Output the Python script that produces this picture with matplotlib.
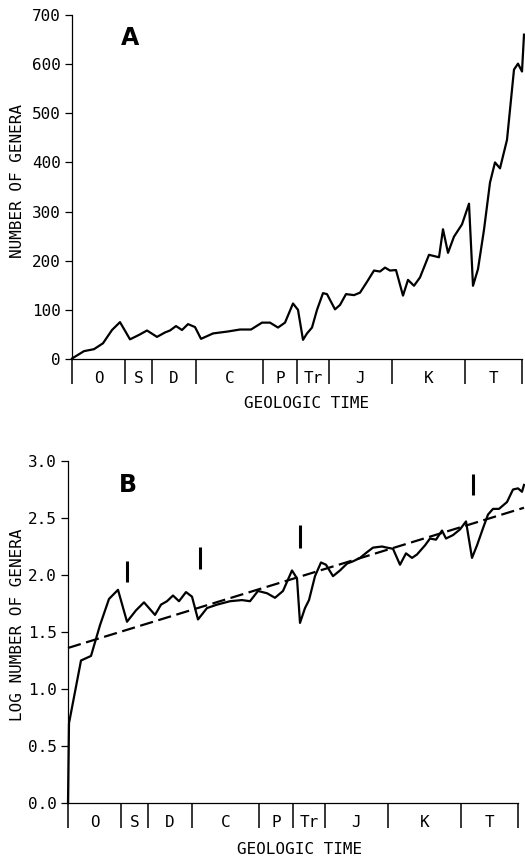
import matplotlib
matplotlib.use("Agg")
import matplotlib.pyplot as plt
import numpy as np

plt.rcParams["font.family"] = ["DejaVu Sans Mono"]

# geologic periods (positions along the time axis) and names
period_edges = [0, 53, 80, 124, 191, 225, 257, 320, 393, 450]
period_names = ["O", "S", "D", "C", "P", "Tr", "J", "K", "T"]

# panel A: number of genera
time_a = [0, 12, 22, 31, 40, 48, 58, 67, 75, 85, 93, 98, 104, 110, 116, 123, 129, 141,
          156, 168, 179, 190, 198, 206, 213, 221, 226, 231, 235, 240, 245, 251, 255,
          263, 268, 274, 282, 288, 295, 302, 308, 313, 318, 324, 331, 336, 342, 348,
          357, 367, 371, 376, 382, 390, 397, 401, 406, 412, 418, 423, 428, 435, 442,
          446, 450, 452]
genera = [1, 16, 20, 32, 59, 75, 40, 49, 58, 45, 54, 58, 67, 59, 71, 65, 41, 52,
          56, 60, 60, 74, 74, 64, 74, 113, 100, 39, 52, 64, 100, 134, 132,
          101, 110, 132, 130, 135, 157, 180, 178, 186, 180, 181, 129, 161, 149, 166,
          212, 207, 264, 216, 249, 274, 316, 149, 183, 263, 359, 400, 388, 446, 589,
          601, 585, 660]

# panel B: log number of genera
time_b = [0, 1, 13, 23, 32, 41, 50, 59, 68, 76, 87, 93, 99, 105, 111, 118, 124, 130,
          139, 149, 162, 174, 182, 190, 199, 207, 215, 224, 229, 232, 237, 241, 247,
          253, 258, 265, 272, 279, 285, 292, 299, 305, 314, 319, 325, 332, 338, 344,
          349, 357, 362, 368, 374, 378, 385, 392, 398, 404, 409, 415, 420, 425, 431,
          439, 445, 450, 454, 456]
log_genera = [0.0, 0.70, 1.25, 1.29, 1.56, 1.79, 1.87, 1.59, 1.69, 1.76, 1.65, 1.74,
              1.77, 1.82, 1.77, 1.85, 1.81, 1.61, 1.71, 1.74, 1.77, 1.78, 1.77, 1.86,
              1.84, 1.80, 1.86, 2.04, 1.97, 1.58, 1.71, 1.78, 1.99, 2.11, 2.09, 1.99,
              2.04, 2.10, 2.12, 2.15, 2.20, 2.24, 2.25, 2.24, 2.23, 2.09, 2.19, 2.15,
              2.18, 2.26, 2.32, 2.31, 2.39, 2.32, 2.35, 2.40, 2.47, 2.15, 2.26, 2.41,
              2.53, 2.58, 2.58, 2.64, 2.75, 2.76, 2.73, 2.79]

# regression line ends and mass-extinction markers
trend_time = [0, 456]
trend_val = [1.36, 2.59]
event_time = [59, 132, 232, 405]
event_lo = [1.94, 2.05, 2.24, 2.70]
event_hi = [2.12, 2.25, 2.44, 2.89]

W, H = 525, 858
fig = plt.figure(figsize=(W / 100, H / 100), dpi=100)


def px_axes(left, top, right, bottom):
    return fig.add_axes([left / W, 1 - bottom / H, (right - left) / W, (bottom - top) / H])


def style(ax, ymax, yticks, fmt):
    for s in ["top", "right"]:
        ax.spines[s].set_visible(False)
    ax.spines["left"].set_bounds(0, ymax)
    ax.spines["bottom"].set_bounds(0, period_edges[-1])
    ax.spines["left"].set_linewidth(0.9)
    ax.spines["bottom"].set_linewidth(0.9)
    ax.set_xticks([])
    ax.set_yticks(yticks)
    ax.set_yticklabels([fmt(v) for v in yticks])
    ax.tick_params(axis="y", length=5, width=0.9, pad=3, labelsize=11.5)
    tr = ax.get_xaxis_transform()
    for e in period_edges:
        ax.plot([e, e], [0, -0.072], transform=tr, color="black", lw=1.1,
                clip_on=False, solid_capstyle="butt")
    for i, name in enumerate(period_names):
        c = (period_edges[i] + period_edges[i + 1]) / 2
        ax.text(c, -0.058, name, transform=tr, ha="center", va="center",
                fontsize=11.5)


# ---- panel A ----
ax1 = px_axes(72, 15, 525, 359)
ax1.plot(time_a, genera, color="black", lw=1.6, clip_on=False)
ax1.set_xlim(0, 453)
ax1.set_ylim(0, 700)
style(ax1, 700, list(range(0, 701, 100)), lambda v: f"{v}")
fig.text(130 / W, 1 - 38 / H, "A", fontsize=17, fontweight="bold",
         family="DejaVu Sans", ha="center", va="center")
fig.text(18 / W, 1 - 181 / H, "NUMBER OF GENERA", rotation=90, fontsize=11.5,
         ha="center", va="center")
fig.text(307 / W, 1 - 403 / H, "GEOLOGIC TIME", fontsize=11.5, ha="center", va="center")

# ---- panel B ----
ax2 = px_axes(68, 461, 525, 803)
ax2.plot(time_b, log_genera, color="black", lw=1.6, clip_on=False)
ax2.plot(trend_time, trend_val, color="black", lw=1.6, dashes=(6, 2.5), clip_on=False)
ax2.vlines(event_time, event_lo, event_hi, color="black", lw=2.2)
ax2.set_xlim(0, 457)
ax2.set_ylim(0, 3)
style(ax2, 3, [0, 0.5, 1.0, 1.5, 2.0, 2.5, 3.0], lambda v: f"{v:.1f}")
fig.text(128 / W, 1 - 485 / H, "B", fontsize=17, fontweight="bold",
         family="DejaVu Sans", ha="center", va="center")
fig.text(18 / W, 1 - 625 / H, "LOG NUMBER OF GENERA", rotation=90, fontsize=11.5,
         ha="center", va="center")
fig.text(300 / W, 1 - 849 / H, "GEOLOGIC TIME", fontsize=11.5, ha="center", va="center")

fig.savefig("out.png", dpi=100)
